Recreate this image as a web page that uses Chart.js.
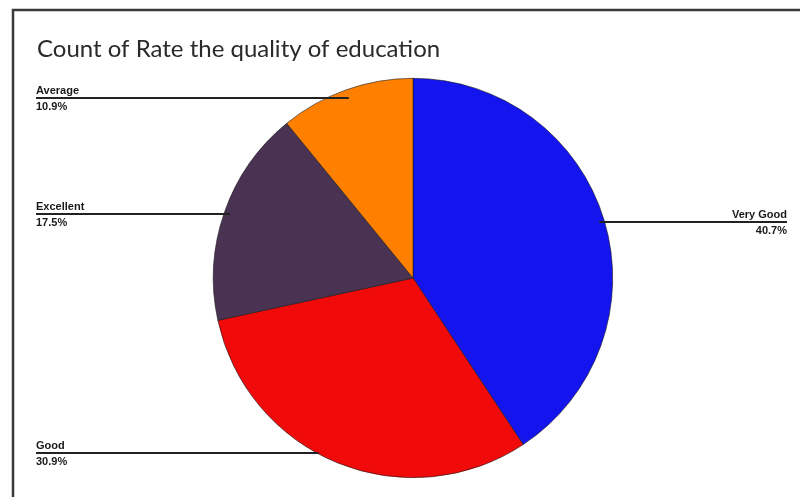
<!DOCTYPE html>
<html>
<head>
<meta charset="utf-8">
<script src="https://cdn.jsdelivr.net/npm/chart.js@4"></script>
<style>
  html, body { margin: 0; padding: 0; background: #ffffff; }
  #wrap { position: relative; width: 800px; height: 497px; }
  canvas { display: block; }
</style>
</head>
<body>
<div id="wrap"><canvas id="c" width="800" height="497"></canvas></div>
<script>
// ---- Data ----
const chartTitle = "Count of Rate the quality of education";
const categories = ["Very Good", "Good", "Excellent", "Average"];
const percentages = [40.7, 30.9, 17.5, 10.9];
const sliceColors = ["#1414ee", "#f00a0a", "#4a3252", "#ff8000"];

// ---- Label placement (layout, not data) ----
const labelLayout = [
  { side: "right", lineY: 222, toEdge: false },
  { side: "left",  lineY: 453, toEdge: true },
  { side: "left",  lineY: 214, toEdge: false },
  { side: "left",  lineY: 98,  toEdge: false }
];

const frameAndLabels = {
  id: "frameAndLabels",
  beforeDraw(chart) {
    const ctx = chart.ctx;
    ctx.save();
    ctx.fillStyle = "#ffffff";
    ctx.fillRect(0, 0, chart.width, chart.height);
    ctx.strokeStyle = "#3a3a3a";
    ctx.lineWidth = 2.5;
    ctx.beginPath();
    ctx.moveTo(13, chart.height + 2);
    ctx.lineTo(13, 10);
    ctx.lineTo(chart.width + 2, 10);
    ctx.stroke();
    ctx.fillStyle = "#2a2a2a";
    ctx.font = "24px Lato, 'Open Sans', sans-serif";
    ctx.textBaseline = "alphabetic";
    ctx.textAlign = "left";
    ctx.fillText(chartTitle, 37, 57);
    ctx.restore();
  },
  afterDraw(chart) {
    const ctx = chart.ctx;
    const meta = chart.getDatasetMeta(0);
    ctx.save();
    meta.data.forEach((arc, i) => {
      const lay = labelLayout[i];
      const mid = (arc.startAngle + arc.endAngle) / 2;
      const dy = lay.lineY - arc.y;
      let endX;
      const edgeDx = Math.sqrt(Math.max(0, arc.outerRadius * arc.outerRadius - dy * dy));
      if (lay.toEdge) {
        endX = lay.side === "left" ? arc.x - edgeDx + 2 : arc.x + edgeDx - 2;
      } else {
        let r = dy / Math.sin(mid);
        if (!isFinite(r) || r < 0 || r > arc.outerRadius) r = arc.outerRadius * 0.97;
        endX = arc.x + r * Math.cos(mid);
      }
      const startX = lay.side === "left" ? 36 : 787;
      ctx.strokeStyle = "#222222";
      ctx.lineWidth = 2;
      ctx.beginPath();
      ctx.moveTo(startX, lay.lineY);
      ctx.lineTo(endX, lay.lineY);
      ctx.stroke();
      ctx.fillStyle = "#1a1a1a";
      ctx.font = "bold 11px 'Liberation Sans', Arial, sans-serif";
      ctx.textAlign = lay.side === "left" ? "left" : "right";
      ctx.textBaseline = "alphabetic";
      ctx.fillText(categories[i], startX, lay.lineY - 4);
      ctx.textBaseline = "top";
      ctx.fillText(percentages[i].toFixed(1) + "%", startX, lay.lineY + 3);
    });
    ctx.restore();
  }
};

new Chart(document.getElementById("c"), {
  type: "pie",
  data: {
    labels: categories,
    datasets: [{
      data: percentages,
      backgroundColor: sliceColors,
      borderColor: "#1a1a1a",
      borderWidth: 0.6
    }]
  },
  options: {
    responsive: false,
    animation: false,
    layout: { padding: { top: 78, bottom: 19, left: 213, right: 187 } },
    plugins: {
      legend: { display: false },
      title: { display: false },
      tooltip: { enabled: false }
    }
  },
  plugins: [frameAndLabels]
});
</script>
</body>
</html>
